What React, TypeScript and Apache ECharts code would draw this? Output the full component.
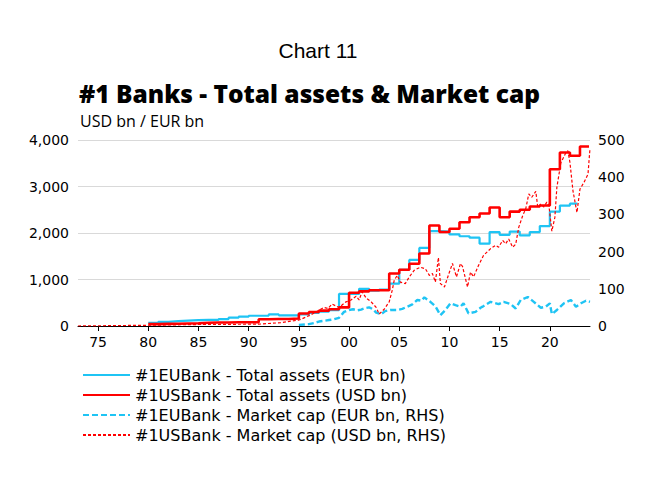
import React, { useEffect, useRef } from "react";
import * as echarts from "echarts";

const xTickYears = [1975, 1980, 1985, 1990, 1995, 2000, 2005, 2010, 2015, 2020];

const seriesNames = [
  "#1EUBank - Total assets (EUR bn)",
  "#1USBank - Total assets (USD bn)",
  "#1EUBank - Market cap (EUR bn, RHS)",
  "#1USBank - Market cap (USD bn, RHS)",
];

// annual total assets (value held through the year)
const euAssets: [number, number][] = [
  [1980, 70], [1981, 90], [1982, 105], [1983, 115], [1984, 125], [1985, 130],
  [1986, 130], [1987, 150], [1988, 180], [1989, 200], [1990, 220], [1991, 225],
  [1992, 250], [1993, 230], [1994, 230], [1995, 250], [1996, 280], [1997, 310],
  [1998, 340], [1999, 690], [2000, 690], [2001, 800], [2002, 760], [2003, 785],
  [2004, 910], [2005, 1210], [2006, 1420], [2007, 1680], [2008, 2040], [2009, 2030],
  [2010, 1970], [2011, 1930], [2012, 1900], [2013, 1770], [2014, 2020], [2015, 1960],
  [2016, 2030], [2017, 1950], [2018, 2020], [2019, 2150], [2020, 2460], [2021, 2590],
  [2022, 2630], [2022.75, 2640],
];

const usAssets: [number, number][] = [
  [1980, 40], [1981, 45], [1982, 50], [1983, 55], [1984, 60], [1985, 70],
  [1986, 75], [1987, 75], [1988, 80], [1989, 80], [1990, 80], [1991, 145],
  [1992, 150], [1993, 150], [1994, 160], [1995, 270], [1996, 300], [1997, 330],
  [1998, 360], [1999, 400], [2000, 715], [2001, 745], [2002, 770], [2003, 770],
  [2004, 1130], [2005, 1210], [2006, 1340], [2007, 1560], [2008, 2160], [2009, 2020],
  [2010, 2090], [2011, 2230], [2012, 2340], [2013, 2420], [2014, 2550], [2015, 2340],
  [2016, 2460], [2017, 2500], [2018, 2570], [2019, 2590], [2020, 3370], [2021, 3730],
  [2022, 3660], [2023, 3860], [2023.9, 3860],
];

const euMcap: [number, number][] = [
  [1995.0, 3], [1996.0, 5], [1996.5, 8], [1997.0, 12], [1997.5, 14], [1998.0, 16],
  [1998.5, 18], [1999.0, 22], [1999.5, 38], [2000.0, 43], [2000.4, 45], [2000.8, 42],
  [2001.2, 44], [2001.6, 48], [2002.0, 50], [2002.4, 45], [2002.7, 36], [2003.2, 32],
  [2003.6, 40], [2004.1, 43], [2004.8, 43], [2005.3, 46], [2005.8, 52], [2006.3, 58],
  [2006.8, 70], [2007.2, 68], [2007.5, 77], [2008.1, 65], [2008.6, 53], [2009.1, 29],
  [2009.6, 43], [2010.1, 61], [2010.6, 56], [2011.1, 52], [2011.4, 61], [2011.9, 34],
  [2012.6, 38], [2013.1, 49], [2013.3, 52], [2014.1, 65], [2014.9, 59], [2015.4, 65],
  [2016.1, 59], [2016.6, 47], [2017.1, 70], [2017.8, 78], [2018.4, 65], [2019.1, 49],
  [2019.6, 52], [2020.0, 61], [2020.2, 32], [2020.7, 43], [2021.4, 61], [2022.1, 70],
  [2022.6, 52], [2023.1, 61], [2023.6, 68], [2024.0, 65],
];

const usMcap: [number, number][] = [
  [1973, 0], [1980, 2], [1985, 4], [1991, 5], [1993.2, 9], [1995.0, 16], [1995.2, 18],
  [1996.2, 30], [1997.5, 50], [1997.9, 47], [1998.3, 59], [1999.0, 50], [1999.7, 65],
  [2000.2, 70], [2000.7, 80], [2001.0, 70], [2001.3, 92], [2001.7, 75], [2002.2, 65],
  [2002.7, 50], [2003.0, 32], [2003.5, 45], [2004.0, 65], [2004.3, 96], [2004.5, 123],
  [2004.8, 136], [2005.1, 118], [2005.6, 114], [2006.0, 132], [2006.5, 150], [2007.1, 158],
  [2007.6, 154], [2008.0, 136], [2008.3, 141], [2008.6, 118], [2008.9, 184], [2009.1, 114],
  [2009.5, 105], [2010.0, 145], [2010.3, 168], [2010.7, 132], [2011.1, 168], [2011.3, 160],
  [2011.8, 105], [2012.1, 145], [2012.4, 132], [2012.9, 163], [2013.4, 190], [2014.1, 208],
  [2014.6, 217], [2014.9, 212], [2015.3, 230], [2015.6, 221], [2015.9, 234], [2016.3, 212],
  [2016.6, 220], [2016.9, 265], [2017.3, 297], [2017.6, 315], [2017.9, 355], [2018.2, 346],
  [2018.6, 362], [2018.8, 319], [2019.1, 328], [2019.4, 320], [2019.7, 333], [2019.9, 325],
  [2020.2, 255], [2020.5, 292], [2020.7, 373], [2021.1, 439], [2021.6, 466], [2021.8, 471],
  [2022.0, 440], [2022.3, 364], [2022.7, 305], [2023.0, 368], [2023.4, 386], [2023.8, 408],
  [2024.0, 478],
];

const CYAN = "#1fc4f4";
const RED = "#ff0000";
const AXIS_FONT = "DejaVu Sans";
const LEGEND_FONT = "DejaVu Sans";

export default function App() {
  const ref = useRef<HTMLDivElement>(null);
  useEffect(() => {
    if (!ref.current) return;
    const chart = echarts.init(ref.current, null, { renderer: "svg" });
    chart.setOption({
      animation: false,
      backgroundColor: "#ffffff",
      graphic: [
        {
          type: "text", x: 318, y: 50,
          style: { text: "Chart 11", font: "21px 'Liberation Sans'", fill: "#000", textAlign: "center", textVerticalAlign: "middle" },
        },
        {
          type: "text", x: 79, y: 93,
          style: { text: "#1 Banks - Total assets & Market cap", font: "800 24.5px 'Open Sans'", fill: "#000", textAlign: "left", textVerticalAlign: "middle" },
        },
        {
          type: "text", x: 80, y: 121,
          style: { text: "USD bn / EUR bn", font: "16px 'Open Sans'", fill: "#000", textAlign: "left", textVerticalAlign: "middle" },
        },
      ],
      grid: { left: 78, right: 56, top: 140, bottom: 156, containLabel: false },
      legend: {
        orient: "vertical",
        left: 77,
        top: 361,
        itemWidth: 47,
        itemHeight: 14,
        itemGap: 2,
        itemStyle: { opacity: 0 },
        textStyle: { fontFamily: LEGEND_FONT, fontSize: 16, color: "#000", lineHeight: 18 },
        data: seriesNames,
      },
      xAxis: {
        type: "value",
        min: 1973,
        max: 2024,
        axisLine: { show: true, lineStyle: { color: "#000", width: 1 } },
        axisTick: { show: true, length: 5, lineStyle: { color: "#000" }, customValues: xTickYears },
        axisLabel: {
          customValues: xTickYears,
          formatter: (v: number) => String(Math.round(v) % 100).padStart(2, "0"),
          fontFamily: AXIS_FONT, fontSize: 14, color: "#000", margin: 9,
        },
        splitLine: { show: false },
      },
      yAxis: [
        {
          type: "value", min: 0, max: 4000, interval: 1000,
          axisLine: { show: false }, axisTick: { show: false },
          axisLabel: {
            formatter: (v: number) => v.toLocaleString("en-US"),
            fontFamily: AXIS_FONT, fontSize: 14, color: "#000", margin: 9,
          },
          splitLine: { show: true, lineStyle: { color: "#d9d9d9", width: 1 } },
        },
        {
          type: "value", min: 0, max: 500, interval: 100,
          axisLine: { show: false }, axisTick: { show: false },
          axisLabel: { fontFamily: AXIS_FONT, fontSize: 14, color: "#000", margin: 8 },
          splitLine: { show: false },
        },
      ],
      series: [
        {
          name: seriesNames[0], type: "line", step: "end", yAxisIndex: 0,
          data: euAssets, symbol: "none", color: CYAN,
          lineStyle: { color: CYAN, width: 2.2 }, z: 3,
        },
        {
          name: seriesNames[1], type: "line", step: "end", yAxisIndex: 0,
          data: usAssets, symbol: "none", color: RED,
          lineStyle: { color: RED, width: 2.6 }, z: 4,
        },
        {
          name: seriesNames[2], type: "line", yAxisIndex: 1,
          data: euMcap, symbol: "none", color: CYAN,
          lineStyle: { color: CYAN, width: 2.4, type: [6, 3] }, z: 2,
        },
        {
          name: seriesNames[3], type: "line", yAxisIndex: 1,
          data: usMcap, symbol: "none", color: RED,
          lineStyle: { color: RED, width: 1.2, type: [3, 2] }, z: 5,
        },
      ],
    });
    return () => chart.dispose();
  }, []);
  return (
    <div
      ref={ref}
      style={{ position: "fixed", left: 0, top: 0, width: 646, height: 482, background: "#fff" }}
    />
  );
}
